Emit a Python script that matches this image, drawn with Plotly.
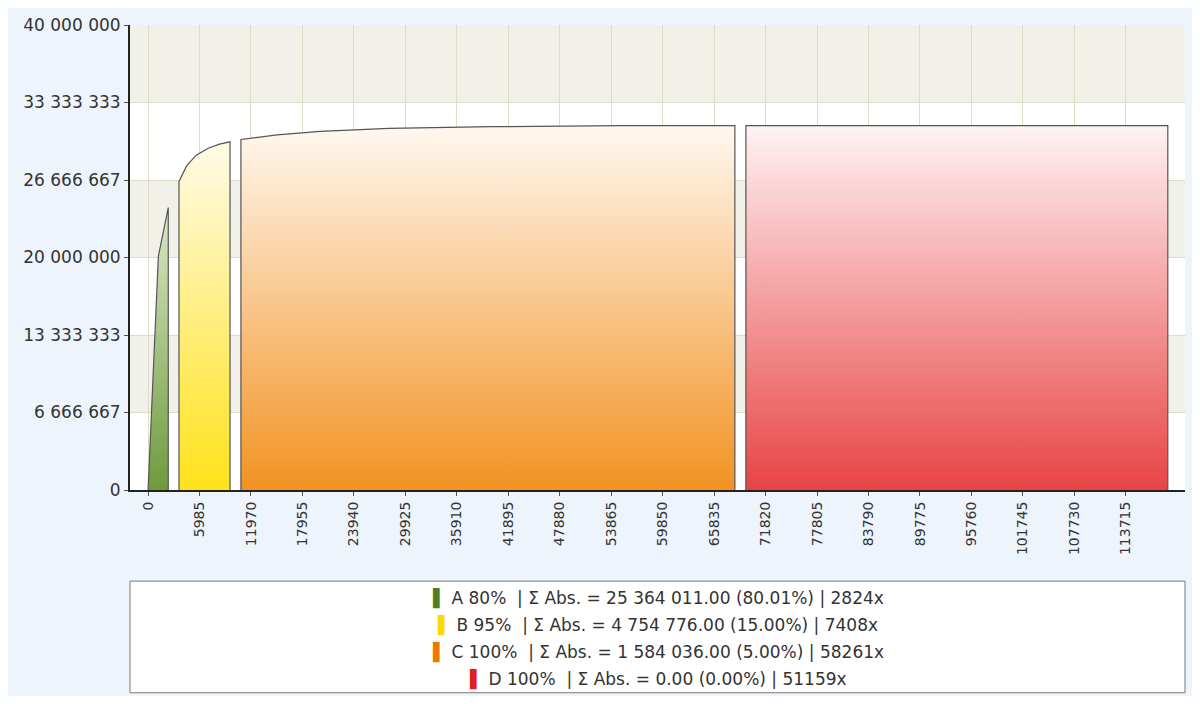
import plotly.graph_objects as go

a_x = [0, 1200, 2350, 2350]
a_y = [0, 20100000, 24300000, 0]
b_x = [3600, 3600, 4500, 5600, 7000, 8300, 9535, 9535]
b_y = [0, 26550000, 27900000, 28800000, 29400000, 29750000, 29950000, 0]
c_x = [10800, 10800, 15000, 20000, 28000, 40000, 55000, 68250, 68250]
c_y = [0, 30150000, 30550000, 30850000, 31100000, 31250000, 31350000, 31350000, 0]
d_x = [69530, 69530, 118600, 118600]
d_y = [0, 31350000, 31350000, 0]

x_ticks = [0, 5985, 11970, 17955, 23940, 29925, 35910, 41895, 47880, 53865, 59850,
           65835, 71820, 77805, 83790, 89775, 95760, 101745, 107730, 113715]
y_ticks = [0, 6666667, 13333333, 20000000, 26666667, 33333333, 40000000]
y_labels = ["0", "6 666 667", "13 333 333", "20 000 000", "26 666 667", "33 333 333", "40 000 000"]

legend_lines = [
    ("#4e7d24", "A 80%  | Σ Abs. = 25 364 011.00 (80.01%) | 2824x"),
    ("#ffd800", "B 95%  | Σ Abs. = 4 754 776.00 (15.00%) | 7408x"),
    ("#f07800", "C 100%  | Σ Abs. = 1 584 036.00 (5.00%) | 58261x"),
    ("#e02020", "D 100%  | Σ Abs. = 0.00 (0.00%) | 51159x"),
]

series = [
    (a_x, a_y, [[0, "#6f9a3c"], [1, "#dbe8c8"]]),
    (b_x, b_y, [[0, "#ffe21a"], [1, "#fffbe8"]]),
    (c_x, c_y, [[0, "#f29222"], [1, "#fff8f0"]]),
    (d_x, d_y, [[0, "#e84444"], [1, "#fff2f4"]]),
]

fig = go.Figure()
for xs, ys, cs in series:
    fig.add_trace(go.Scatter(
        x=xs, y=ys, mode="lines", fill="toself",
        fillgradient=dict(type="vertical", colorscale=cs),
        line=dict(color="#555555", width=1.2), showlegend=False, hoverinfo="skip"))

shapes = []
for i in range(6):
    if i % 2 == 1:
        shapes.append(dict(type="rect", xref="paper", yref="y", x0=0, x1=1,
                           y0=y_ticks[i], y1=y_ticks[i + 1], fillcolor="#f1f1ea",
                           line=dict(width=0), layer="below"))
shapes.append(dict(type="rect", xref="paper", yref="paper", x0=0, x1=1, y0=-0.436, y1=-0.196,
                   fillcolor="white", line=dict(color="#777777", width=1)))
fig.update_layout(shapes=shapes)

annotations = []
for i, (col, txt) in enumerate(legend_lines):
    annotations.append(dict(
        xref="paper", yref="paper", x=0.5, y=-0.234 - i * 0.0575, xanchor="center", yanchor="middle",
        showarrow=False,
        text=f"<span style='color:{col}'>▌</span> {txt}",
        font=dict(family="DejaVu Sans", size=17, color="#333333")))
fig.update_layout(annotations=annotations)

fig.update_layout(
    width=1184, height=688,
    margin=dict(l=122, r=7, t=12, b=206),
    paper_bgcolor="#eef4fb", plot_bgcolor="white",
    font=dict(family="DejaVu Sans", color="#333333"),
    xaxis=dict(range=[-2100, 120600], tickvals=x_ticks, ticktext=[str(v) for v in x_ticks],
               tickangle=-90, showgrid=True, gridcolor="#dcdcc8", zeroline=False,
               showline=True, linecolor="#222222", linewidth=2, ticks="outside",
               ticklen=4, tickcolor="#555555", tickfont=dict(size=14)),
    yaxis=dict(range=[0, 40000000], tickvals=y_ticks, ticktext=y_labels,
               showgrid=True, gridcolor="#dcdcc8", zeroline=False,
               showline=True, linecolor="#222222", linewidth=2, ticks="outside",
               ticklen=4, tickcolor="#555555", tickfont=dict(size=17)),
)
fig.write_html("out.html")
